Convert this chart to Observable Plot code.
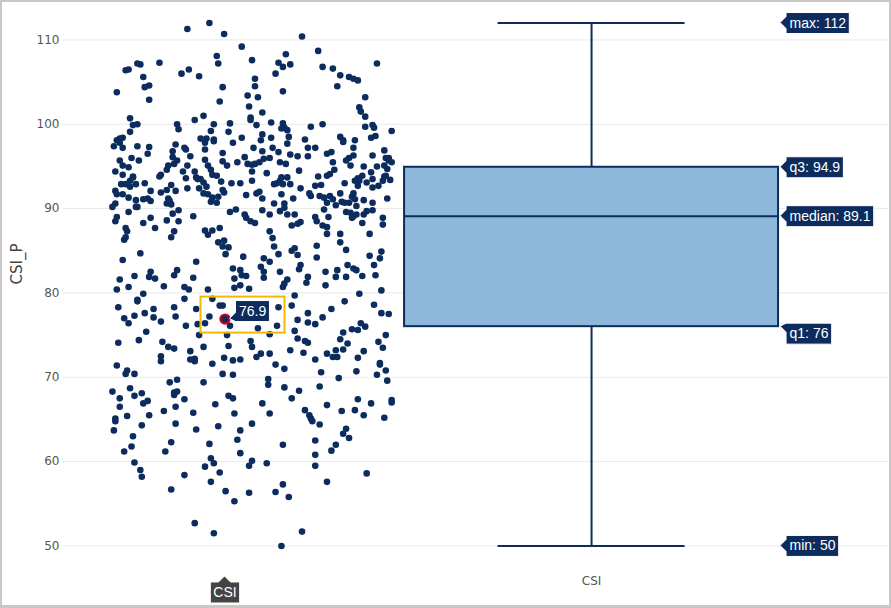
<!DOCTYPE html>
<html><head><meta charset="utf-8">
<script src="https://cdn.jsdelivr.net/npm/d3@7"></script>
<script src="https://cdn.jsdelivr.net/npm/@observablehq/plot@0.6"></script>
<style>
body{margin:0;background:#fff;}
#wrap{position:relative;width:891px;height:608px;overflow:hidden;background:#fff;}
#wrap svg{position:absolute;left:0;top:0;}
#frame{position:absolute;left:0;top:0;width:891px;height:608px;box-sizing:border-box;border:2px solid #c8c8c8;border-bottom-width:3px;pointer-events:none;}
</style></head><body><div id="wrap"><div id="frame"></div></div>
<script>
// ---- data ----
const category = ["CSI"];
const yTitle = "CSI_P";
const yTicks = [50, 60, 70, 80, 90, 100, 110];
const statNames = ["max", "q3", "median", "q1", "min"];
const statValues = [112, 94.9, 89.1, 76, 50];
const hoverJitter = [-0.204];
const hoverValue = [76.9];
// [jitter (-1..1 across the point cloud), CSI_P value]
const csiPoints = [
[-0.46,111.3],[-0.31,112.0],[-0.21,110.7],[-0.09,109.2],[0.32,110.4],[0.43,108.7],
[-0.94,103.8],[-0.88,106.4],[-0.86,106.5],[-0.80,107.2],[-0.78,107.1],[-0.76,105.6],[-0.65,107.3],[-0.75,104.4],[-0.72,104.6],[-0.72,102.9],
[-0.50,106.0],[-0.45,106.5],[-0.38,105.7],[-0.26,108.1],[-0.25,107.2],[-0.22,104.4],[-0.24,102.7],
[-0.02,107.6],[0.00,105.4],[0.00,104.5],[-0.05,103.4],[0.02,103.2],[-0.04,102.1],[0.05,101.4],
[0.16,107.3],[0.21,108.3],[0.19,106.8],[0.24,107.1],[0.14,106.0],[0.19,103.9],
[0.46,106.8],[0.53,106.6],[0.58,105.8],[0.56,104.5],[0.64,105.6],[0.67,105.4],[0.70,105.2],[0.83,107.2],[0.75,103.2],[0.71,102.0],[0.72,101.5],[0.75,100.9],
[-0.85,100.7],[-0.83,99.9],[-0.80,100.0],[-0.85,99.1],[-0.41,100.5],[-0.35,101.0],[-0.53,100.0],[-0.52,99.4],[-0.28,100.0],[-0.30,99.2],[-0.37,98.3],[-0.33,98.3],[-0.28,98.2],[-0.17,100.1],[-0.18,99.1],
[-0.09,98.4],[-0.03,100.8],[-0.03,100.5],[0.01,99.9],[0.05,98.8],[0.04,98.1],[0.11,98.4],[0.11,100.2],[0.19,100.1],[0.20,99.6],[0.18,99.5],[0.22,99.3],[0.23,98.5],
[0.38,99.7],[0.46,100.0],[0.34,98.2],[0.58,98.5],[0.60,98.1],[0.68,98.1],[0.75,99.7],[0.80,99.9],[0.81,99.6],[0.79,98.4],[0.82,98.6],[0.93,99.2],
[-0.94,98.1],[-0.92,98.3],[-0.90,98.4],
[-0.96,97.4],[-0.92,97.8],[-0.90,97.2],[-0.80,97.4],[-0.72,97.3],[-0.73,96.5],[-0.54,97.6],[-0.56,96.8],[-0.56,96.1],[-0.48,97.2],[-0.47,97.0],[-0.44,96.2],
[-0.34,97.8],[-0.34,97.0],[-0.28,98.0],[-0.22,96.6],[-0.15,97.8],[-0.07,96.1],[-0.01,97.2],[0.05,96.8],[0.12,97.2],[0.16,96.7],[0.22,97.7],[0.24,96.4],
[0.29,96.2],[0.36,97.2],[0.41,97.2],[0.36,96.2],[0.49,96.5],[0.52,96.7],[0.60,97.9],[0.67,97.2],[0.67,96.3],[0.64,96.0],[0.62,95.7],[0.80,96.3],[0.88,96.9],[0.89,96.0],[0.91,96.0],[0.91,95.7],
[-0.92,95.7],[-0.90,95.1],[-0.86,94.9],[-0.84,96.0],[-0.79,95.7],[-0.95,94.4],[-0.90,94.0],[-0.83,93.8],[-0.59,95.1],[-0.60,94.6],[-0.64,94.0],[-0.65,93.8],
[-0.55,95.3],[-0.53,95.7],[-0.49,94.4],[-0.46,95.1],[-0.41,94.4],[-0.40,93.7],[-0.34,95.8],[-0.32,95.1],[-0.30,94.6],[-0.29,94.0],[-0.26,93.9],[-0.22,95.6],[-0.19,95.1],
[-0.12,95.5],[-0.05,95.3],[-0.02,95.2],[-0.02,94.4],[0.00,95.3],[0.03,95.5],[0.06,95.9],[0.08,94.2],[0.10,96.0],[0.17,95.5],[0.21,95.3],[0.30,94.5],
[0.43,93.8],[0.49,93.9],[0.51,94.1],[0.54,94.6],[0.53,95.5],[0.65,95.1],[0.74,95.0],[0.79,94.3],[0.80,93.5],[0.83,95.0],[0.88,95.1],[0.89,93.9],[0.90,94.7],[0.93,95.5],[0.92,93.4],[0.73,93.9],[0.70,93.6],[0.68,93.3],
[-0.91,92.9],[-0.88,92.9],[-0.85,93.3],[-0.83,93.7],[-0.81,92.9],[-0.75,93.0],[-0.85,92.6],[-0.95,92.1],[-0.94,91.7],[-0.90,91.7],[-0.86,91.3],[-0.81,91.0],[-0.81,90.2],
[-0.76,91.1],[-0.73,91.2],[-0.71,90.9],[-0.71,92.1],[-0.95,90.6],[-0.97,90.2],[-0.64,91.9],[-0.60,92.2],[-0.57,92.8],[-0.59,91.2],[-0.60,90.6],[-0.57,90.5],[-0.58,90.9],
[-0.54,92.1],[-0.46,92.4],[-0.47,93.6],[-0.39,93.5],[-0.37,93.5],[-0.38,92.4],[-0.35,93.1],[-0.33,92.6],[-0.35,91.8],[-0.32,91.7],[-0.29,91.3],[-0.30,90.8],[-0.26,90.7],
[-0.25,91.4],[-0.22,92.2],[-0.21,91.9],[-0.23,93.2],[-0.16,93.0],[-0.10,93.0],[-0.06,91.6],[-0.02,93.3],[0.01,91.8],[0.03,92.0],[0.05,91.2],
[0.13,92.9],[0.15,93.0],[0.17,93.3],[0.18,93.7],[0.19,92.9],[0.22,93.7],[0.24,92.9],[0.26,91.2],[0.18,91.7],[0.13,90.6],[0.20,90.6],[0.20,90.1],
[0.31,92.4],[0.37,91.8],[0.38,91.5],[0.41,92.7],[0.45,92.8],[0.44,91.5],[0.47,91.3],[0.51,91.5],[0.49,90.7],[0.53,91.1],[0.55,90.4],[0.58,91.8],[0.59,90.8],
[0.61,93.0],[0.61,90.7],[0.64,90.7],[0.66,91.4],[0.67,91.8],[0.68,91.1],[0.70,92.7],[0.71,93.3],[0.76,93.1],[0.80,92.5],[0.80,90.7],[0.84,92.7],[0.87,93.3],[0.88,93.8],[0.90,91.2],[0.76,89.7],[0.74,91.0],[0.69,90.3],
[-0.95,88.5],[-0.94,89.0],[-0.86,89.6],[-0.80,90.2],[-0.76,88.3],[-0.71,88.9],[-0.68,87.7],[-0.88,87.7],[-0.87,87.3],[-0.89,86.3],[-0.88,86.6],
[-0.60,88.6],[-0.56,89.4],[-0.52,89.8],[-0.52,88.5],[-0.42,89.1],[-0.57,86.6],[-0.55,87.3],[-0.34,87.4],[-0.32,86.9],[-0.29,87.4],[-0.24,87.7],
[-0.17,89.6],[-0.13,89.9],[-0.07,89.3],[-0.06,88.9],[-0.03,88.5],[0.00,88.3],[0.05,89.8],[0.10,89.3],[0.17,89.7],[0.22,89.3],[0.25,88.0],[0.29,88.2],[0.31,88.4],[0.27,89.3],
[0.41,89.0],[0.42,88.5],[0.46,88.0],[0.50,89.0],[0.47,89.9],[0.49,87.0],[0.49,87.8],[0.58,87.0],[0.62,89.6],[0.65,89.5],[0.67,89.1],[0.69,89.3],[0.66,88.9],
[0.73,88.3],[0.74,89.3],[0.78,87.0],[0.80,89.8],[0.87,88.9],[0.87,88.1],[0.10,87.3],[0.12,86.5],
[-0.90,83.9],[-0.78,84.7],[-0.71,82.5],[-0.72,81.9],[-0.68,81.7],[-0.82,82.0],[-0.92,81.6],[-0.53,82.7],[-0.55,82.1],[-0.40,83.7],[-0.42,81.8],
[-0.25,86.0],[-0.21,86.2],[-0.20,84.6],[-0.18,85.4],[-0.22,85.5],[-0.08,84.3],[0.13,85.5],[0.16,84.6],[0.25,85.0],[0.27,85.3],[0.29,84.5],[0.42,85.6],[0.42,84.2],
[0.58,86.0],[0.62,85.1],[0.86,84.9],[0.85,84.1],[0.78,84.4],[0.06,84.1],[0.10,83.7],[0.04,83.1],[0.06,82.5],[-0.15,82.9],[-0.10,82.7],[-0.09,82.1],[-0.06,82.0],[-0.14,81.7],
[0.17,82.5],[0.22,81.6],[0.31,83.3],[0.30,82.8],[0.36,81.9],[0.48,82.5],[0.56,82.7],[0.55,81.9],[0.62,81.9],[0.63,83.3],[0.67,82.9],[0.69,82.7],[0.73,82.0],[0.81,83.3],[0.82,82.1],[0.06,81.8],
[-0.94,80.4],[-0.86,80.7],[-0.76,79.9],[-0.80,79.2],[-0.80,79.0],[-0.62,80.8],[-0.48,80.7],[-0.45,80.4],[-0.48,79.3],[-0.55,78.3],[-0.69,78.1],[-0.75,77.6],[-0.82,77.3],
[-0.89,77.0],[-0.86,76.4],[-0.93,78.3],[-0.69,77.1],[-0.64,76.6],[-0.54,77.2],[-0.47,76.1],[-0.40,78.1],[-0.39,76.3],[-0.34,76.4],[-0.32,80.4],[-0.29,79.3],[-0.31,77.2],
[-0.14,80.6],[-0.10,80.9],[-0.04,80.5],[0.19,80.7],[0.20,81.1],[0.35,81.2],[0.48,80.9],[0.27,79.7],[0.25,78.5],[0.16,78.3],
[-0.24,78.5],[-0.22,78.5],[-0.204,76.9],[-0.17,76.1],[0.02,75.8],[0.15,76.1],[0.10,75.1],
[0.36,77.6],[0.36,76.5],[0.41,76.3],[0.29,76.8],[0.46,77.1],[0.52,78.1],[0.61,79.0],[0.71,79.9],[0.86,80.3],[0.81,78.6],[0.86,77.6],[0.91,77.5],
[0.66,75.7],[0.70,75.6],[0.72,76.4],[0.75,76.0],[0.60,75.3],[0.27,75.5],[-0.38,75.0],
[-0.93,74.1],[-0.79,74.4],[-0.74,75.4],[-0.63,74.2],[-0.59,73.6],[-0.55,73.4],[-0.64,72.5],[-0.64,71.9],
[-0.44,73.1],[-0.44,72.1],[-0.41,71.9],[-0.41,72.2],[-0.35,73.6],[-0.29,71.6],[-0.21,72.3],[-0.15,72.0],[-0.10,72.1],[-0.18,73.7],[-0.19,75.0],
[-0.03,74.3],[-0.02,73.6],[0.01,72.4],[0.04,72.8],[0.10,72.8],[0.14,71.5],[0.20,71.0],[0.24,73.2],[0.29,74.6],[0.34,74.3],[0.36,74.1],[0.33,72.9],[0.41,72.1],[0.45,70.6],
[0.49,72.8],[0.53,72.4],[0.55,73.2],[0.56,72.4],[0.58,74.5],[0.60,73.3],[0.63,74.0],[0.70,72.3],[0.74,73.1],[0.69,70.7],[0.57,69.9],
[0.84,74.2],[0.87,73.5],[0.89,75.0],[0.85,71.7],[0.85,71.5],[0.89,70.8],[0.83,70.3],[0.90,69.6],
[-0.94,71.4],[-0.87,70.8],[-0.88,70.4],[-0.82,70.4],[-0.97,68.3],[-0.85,68.7],[-0.92,67.5],[-0.92,66.5],[-0.82,67.8],[-0.77,68.1],[-0.76,66.9],[-0.73,67.2],
[-0.95,65.1],[-0.87,65.4],[-0.72,65.5],[-0.62,66.0],[-0.54,66.5],[-0.58,69.4],[-0.53,69.7],[-0.55,68.2],[-0.53,68.3],[-0.55,67.9],[-0.48,67.4],[-0.35,69.4],
[-0.22,70.4],[-0.15,70.3],[-0.42,65.8],[-0.27,66.8],[-0.18,67.8],[-0.15,67.5],[-0.14,65.7],[0.05,66.9],[0.10,65.7],[0.09,69.8],[0.09,69.1],[0.20,68.8],
[0.25,67.5],[0.30,68.4],[0.34,66.1],[0.37,65.5],[0.38,65.1],[0.44,68.9],[0.49,66.7],[0.59,66.0],[0.68,66.1],[0.70,67.4],[0.74,65.5],[0.79,66.9],[0.88,65.2],[0.93,67.3],[0.93,67.0],
[-0.96,63.7],[-0.95,64.8],[-0.77,64.3],[-0.54,64.5],[-0.40,63.8],[-0.25,64.2],[-0.10,63.7],[-0.02,64.5],[0.39,64.8],[0.44,64.4],
[0.62,63.9],[0.60,63.3],[0.64,62.8],[0.55,62.0],[0.52,61.3],[0.41,62.5],[0.41,60.8],[0.41,59.5],[0.49,57.6],[0.19,62.0],[0.19,57.3],[0.14,56.4],[0.23,55.8],
[0.08,59.8],[-0.02,60.1],[-0.04,59.5],[-0.04,56.3],[-0.12,62.6],[-0.10,61.0],[-0.14,55.3],[-0.20,56.5],[-0.24,58.7],[-0.30,57.6],[-0.31,62.1],
[-0.30,60.4],[-0.28,59.8],[-0.34,59.4],[-0.48,58.4],[-0.57,56.7],[-0.57,62.3],[-0.61,61.2],[-0.83,63.0],[-0.84,61.8],[-0.89,61.2],
[-0.82,59.9],[-0.78,59.0],[-0.77,58.2],[-0.41,52.7],[-0.28,51.5],[0.32,51.7],[0.18,50.0],[0.76,58.6]
];

// ---- layout / style ----
const POINTPOS = -1.8;     // point cloud centre, in box half-widths
const SPREAD = 0.786;      // half-width of the jittered cloud
const navy = "#0c2c5e";
const boxFill = "#8db8da";
const axisFont = "'DejaVu Sans', Verdana, sans-serif";
const labelFont = "'Liberation Sans', Arial, sans-serif";

const box = {max: statValues[0], q3: statValues[1], median: statValues[2], q1: statValues[3], min: statValues[4]};
const pts = csiPoints.map(([j, v]) => ({x: POINTPOS + j * SPREAD, v}));
const hov = hoverValue.map((v, i) => ({x: POINTPOS + hoverJitter[i] * SPREAD, v}));
const stats = statNames.map((n, i) => ({name: n, v: statValues[i]}));

const plot = Plot.plot({
  width: 891, height: 608,
  marginLeft: 63, marginRight: 3, marginTop: 4, marginBottom: 44,
  style: {fontFamily: axisFont, fontSize: "12px", color: "#444", background: "transparent", overflow: "visible"},
  x: {domain: [-2.824, 1.588], axis: null},
  y: {domain: [47.8, 114.2], axis: null},
  marks: [
    Plot.gridY(yTicks, {stroke: "#e9e9e9", strokeOpacity: 1, strokeWidth: 1}),
    Plot.axisY(yTicks, {tickSize: 0, tickPadding: 4, label: null, fill: "#555", fontSize: 12}),
    Plot.axisX([0], {tickSize: 0, tickPadding: 12, label: null, tickFormat: () => category[0], fill: "#555", fontSize: 12}),
    Plot.text([yTitle], {frameAnchor: "left", dx: -46, rotate: -90, fontSize: 15, fill: "#444", text: d => d}),
    Plot.dot(pts, {x: "x", y: "v", r: 3.3, fill: navy}),
    Plot.rect([box], {x1: -1, x2: 1, y1: "q1", y2: "q3", fill: boxFill, stroke: navy, strokeWidth: 2}),
    Plot.ruleY([box], {x1: -1, x2: 1, y: "median", stroke: navy, strokeWidth: 2}),
    Plot.ruleX([box], {x: 0, y1: "q3", y2: "max", stroke: navy, strokeWidth: 2}),
    Plot.ruleX([box], {x: 0, y1: "min", y2: "q1", stroke: navy, strokeWidth: 2}),
    Plot.ruleY([box], {x1: -0.5, x2: 0.5, y: "max", stroke: navy, strokeWidth: 2}),
    Plot.ruleY([box], {x1: -0.5, x2: 0.5, y: "min", stroke: navy, strokeWidth: 2}),
    Plot.dot(hov, {x: "x", y: "v", r: 4.6, fill: navy, stroke: "#d0021b", strokeWidth: 2.2}),
    // hover labels (backgrounds added after render)
    Plot.text(stats.filter(d => d.name !== "q1"), {x: 1, y: "v", text: d => `${d.name}: ${d.v}`, dx: 11, textAnchor: "start", fill: "white", fontSize: 14, fontFamily: labelFont}),
    Plot.text(stats.filter(d => d.name === "q1"), {x: 1, y: "v", text: d => `${d.name}: ${d.v}`, dx: 11, dy: 7, textAnchor: "start", fill: "white", fontSize: 14, fontFamily: labelFont}),
    Plot.text(hov, {x: "x", y: "v", text: d => `${d.v}`, dx: 14, dy: -8, textAnchor: "start", fill: "white", fontSize: 14, fontFamily: labelFont}),
    Plot.text(hov, {x: "x", frameAnchor: "bottom", lineAnchor: "middle", dy: 28, text: () => category[0], fill: "white", fontSize: 14, fontFamily: labelFont})
  ]
});

const wrap = document.getElementById("wrap");
wrap.insertBefore(plot, wrap.firstChild);

const NS = "http://www.w3.org/2000/svg";
const sx = plot.scale("x"), sy = plot.scale("y");
const origin = plot.getBoundingClientRect();
const groups = plot.querySelectorAll('g[aria-label="text"]');
function bboxOf(t) {
  const r = t.getBoundingClientRect();
  return {x: r.left - origin.left, y: r.top - origin.top, width: r.width, height: r.height};
}
function addPath(g, d, fill) {
  const p = document.createElementNS(NS, "path");
  p.setAttribute("d", d);
  p.setAttribute("fill", fill);
  p.setAttribute("stroke", "white");
  p.setAttribute("stroke-width", "1");
  plot.insertBefore(p, g);
}
// groups[0] = y title; [1] stat labels; [2] q1 label; [3] hover value; [4] hover x label
function leftLabel(g, tipX, tipYs, fill) {
  g.querySelectorAll("text").forEach((t, i) => {
    const b = bboxOf(t);
    const left = tipX + 6, right = b.x + b.width + 3;
    const cy = b.y + b.height / 2 + 0.5;
    const top = cy - 10.5, bottom = cy + 10.5;
    const ty = tipYs[i];
    const yt = Math.max(ty - 6, top), yb = Math.min(ty + 6, bottom);
    addPath(g, `M${tipX},${ty}L${left},${yt}V${top}H${right}V${bottom}H${left}V${yb}Z`, fill);
  });
}
const boxRight = sx.apply(1) + 2;
const mainStats = stats.filter(d => d.name !== "q1");
leftLabel(groups[1], boxRight, mainStats.map(d => sy.apply(d.v)), navy);
leftLabel(groups[2], boxRight, [sy.apply(box.q1)], navy);
const hx = sx.apply(hov[0].x), hy = sy.apply(hov[0].v);
leftLabel(groups[3], hx + 5, [hy], navy);
{
  const g = groups[4];
  const b = bboxOf(g.querySelector("text"));
  const cy = b.y + b.height / 2 + 0.5;
  const left = b.x - 3, right = b.x + b.width + 3, top = cy - 10.5, bottom = cy + 10.5;
  const tipY = top - 6;
  addPath(g, `M${hx},${tipY}L${hx + 6},${top}H${right}V${bottom}H${left}V${top}H${hx - 6}Z`, "#444");
}
{
  const r = document.createElementNS(NS, "rect");
  r.setAttribute("x", hx - 24); r.setAttribute("y", hy - 22);
  r.setAttribute("width", 84); r.setAttribute("height", 36);
  r.setAttribute("fill", "none"); r.setAttribute("stroke", "#f5b800"); r.setAttribute("stroke-width", 2);
  plot.appendChild(r);
}
</script></body></html>
